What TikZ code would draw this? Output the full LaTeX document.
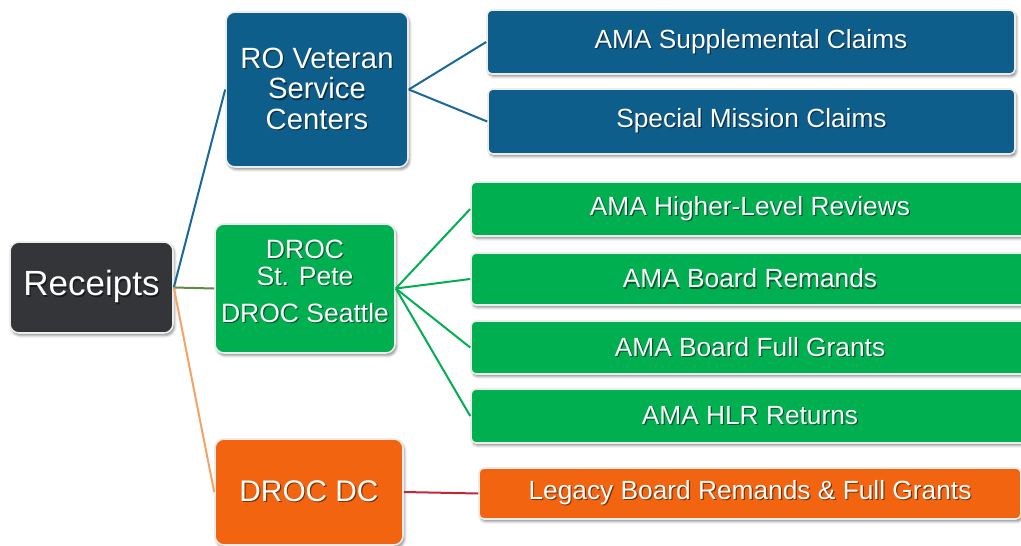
\documentclass[tikz,border=0pt]{standalone}
\usepackage{fontspec}
\setmainfont{Liberation Sans}
\usetikzlibrary{shadows,shadows.blur}

\definecolor{rootgray}{RGB}{52,53,56}
\definecolor{roblue}{RGB}{14,94,140}
\definecolor{drocgreen}{RGB}{0,176,80}
\definecolor{dcorange}{RGB}{242,100,16}
\definecolor{lnblue}{RGB}{24,104,154}
\definecolor{lngreen}{RGB}{96,140,62}
\definecolor{lnorange}{RGB}{246,162,100}
\definecolor{lnred}{RGB}{192,40,56}
\definecolor{rimgray}{RGB}{236,236,236}

% white text with a small dark shadow behind it
\newcommand\shtx[1]{\leavevmode\rlap{\hspace{1.2pt}\raisebox{-1.2pt}{\color{tsh}#1}}#1}

\tikzset{
  box/.style={draw=rimgray, line width=1.6pt, rounded corners=9pt, align=center,
    text=white, inner sep=0pt, fill=#1,
    execute at begin node={\colorlet{tsh}{#1!50!black}},
    blur shadow={shadow xshift=1.5pt, shadow yshift=-2.5pt, shadow blur radius=2.5pt, shadow opacity=45}},
  leaf/.style 2 args={box=#1, rounded corners=5pt, minimum height=#2,
    font=\fontsize{26.3}{30}\selectfont},
  label/.style={text=white, align=center, inner sep=0pt,
    execute at begin node={\colorlet{tsh}{#1!50!black}}},
  link/.style={line width=2pt}
}

\begin{document}
\begin{tikzpicture}[x=1pt, y=-1pt]
  \useasboundingbox (0,0) rectangle (1021,546);
  \clip (0,0) rectangle (1021,546);

  % root and second-level units
  \node[box=rootgray, minimum width=163pt, minimum height=91pt,
        font=\fontsize{35}{38}\selectfont] (rec) at (91.5,287.5) {\shtx{Receipts}};
  \node[box=roblue, minimum width=182pt, minimum height=155pt,
        font=\fontsize{29.3}{30.5}\selectfont] (ro) at (317,89.5)
        {\shtx{RO Veteran}\\\shtx{Service}\\\shtx{Centers}};
  \node[box=drocgreen, minimum width=180pt, minimum height=129pt] (droc) at (305,288.5) {};
  \node[label=drocgreen, font=\fontsize{26.5}{26.5}\selectfont] (droctext) at (305,282)
        {\shtx{DROC}\\\shtx{St. Pete}\\[11pt]\shtx{DROC Seattle}};
  \node[box=dcorange, minimum width=188pt, minimum height=106pt,
        font=\fontsize{29.8}{32}\selectfont] (dc) at (309,492) {\shtx{DROC DC}};

  % receipt categories
  \node[leaf={roblue}{64pt}, minimum width=528pt] (supp) at (751,42)
        {\shtx{AMA Supplemental Claims}};
  \node[leaf={roblue}{65pt}, minimum width=527pt] (spec) at (751.5,121.5)
        {\shtx{Special Mission Claims}};
  \node[leaf={drocgreen}{54pt}, minimum width=558pt] (hlr) at (750,209)
        {\shtx{AMA Higher-Level Reviews}};
  \node[leaf={drocgreen}{52pt}, minimum width=558pt] (brem) at (750,279)
        {\shtx{AMA Board Remands}};
  \node[leaf={drocgreen}{53pt}, minimum width=558pt] (bfg) at (750,347.5)
        {\shtx{AMA Board Full Grants}};
  \node[leaf={drocgreen}{54pt}, minimum width=558pt] (hlrr) at (750,416)
        {\shtx{AMA HLR Returns}};
  \node[leaf={dcorange}{51pt}, minimum width=542pt] (leg) at (750,493.5)
        {\shtx{Legacy Board Remands \& Full Grants}};

  % connectors
  \draw[link, lnblue]   (rec.east) -- (ro.west);
  \draw[link, lngreen]  (rec.east) -- (droc.west);
  \draw[link, lnorange] (rec.east) -- (dc.west);
  \draw[link, lnblue] (ro.east) -- (supp.west);
  \draw[link, lnblue] (ro.east) -- (spec.west);
  \foreach \t in {hlr, brem, bfg, hlrr}
    \draw[link, drocgreen] (droc.east) -- (\t.west);
  \draw[link, lnred] (dc.east) -- (leg.west);
\end{tikzpicture}
\end{document}
